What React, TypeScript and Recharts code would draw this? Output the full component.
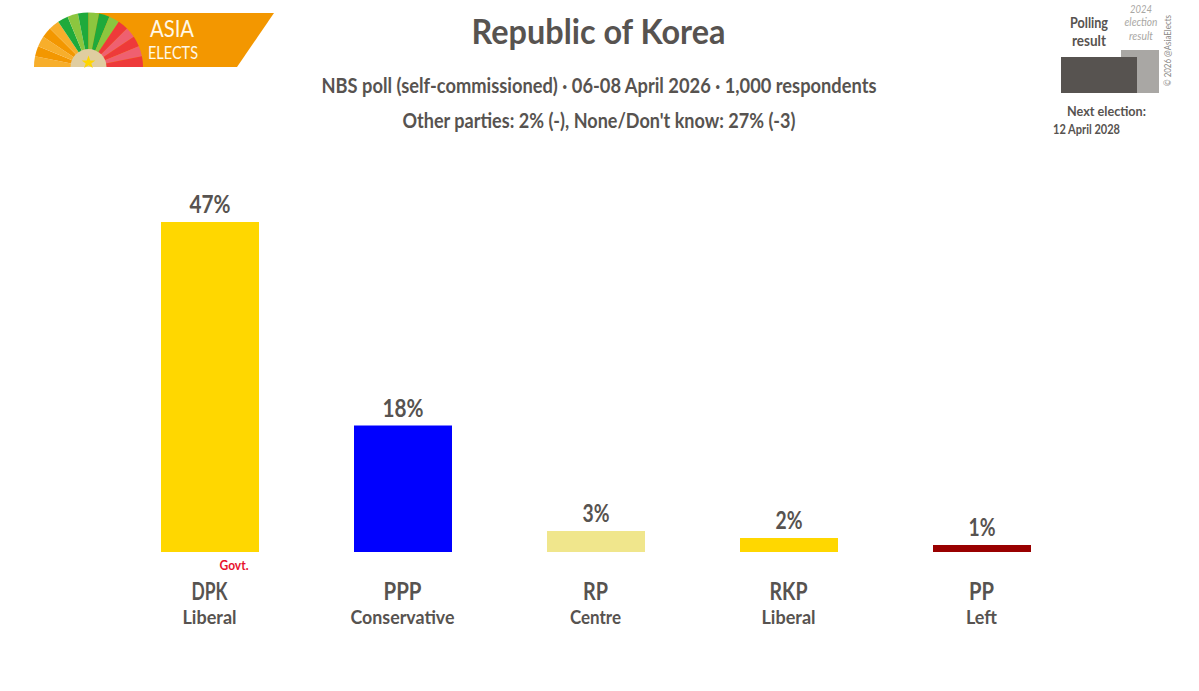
import { Bar, BarChart, Cell, LabelList, XAxis, YAxis } from 'recharts'

const parties = ['DPK', 'PPP', 'RP', 'RKP', 'PP']
const ideologies = ['Liberal', 'Conservative', 'Centre', 'Liberal', 'Left']
const results = [47, 18, 3, 2, 1]
const partyColors = ['#FFD700', '#0000FF', '#F0E68C', '#FFD700', '#990000']

const partyWidths = [36, 38, 25, 38, 25]
const ideologyWidths = [54, 104, 51, 54, 31]

const fanColors = [
  '#F7AE2B', '#F39700', '#F7AE2B', '#F39700', '#F7AE2B',
  '#1FAA3B', '#8CC63F', '#1FAA3B', '#8CC63F', '#1FAA3B', '#8CC63F',
  '#EE3A3A', '#EF6070', '#EE3A3A', '#EF6070', '#EE3A3A',
]

const data = parties.map((name, i) => ({ name, value: results[i] }))

const INK = '#575350'
const FONT = 'Lato, sans-serif'

function T({ x, y, w, size, children, weight = 700, fill = INK, anchor = 'middle', italic = false }: any) {
  return (
    <text
      x={x}
      y={y}
      textAnchor={anchor}
      fontFamily={FONT}
      fontSize={size}
      fontWeight={weight}
      fontStyle={italic ? 'italic' : 'normal'}
      fill={fill}
      textLength={w}
      lengthAdjust='spacingAndGlyphs'
    >
      {children}
    </text>
  )
}

function PartyTick({ x, y, payload, index }: any) {
  return (
    <g>
      <T x={x} y={y + 40} w={partyWidths[index]} size={24}>{payload.value}</T>
      <T x={x} y={y + 64} w={ideologyWidths[index]} size={19}>{ideologies[index]}</T>
    </g>
  )
}

function ValueLabel({ x, y, width, value }: any) {
  return (
    <T x={x + width / 2} y={y - 9} w={String(value).length === 1 ? 27 : 41} size={24}>
      {`${value}%`}
    </T>
  )
}

function wedge(i: number) {
  const cx = 88.5
  const cy = 67
  const r = 54.5
  const step = Math.PI / fanColors.length
  const a = Math.PI - i * step
  const b = a - step
  return `M${cx} ${cy}L${cx + r * Math.cos(a)} ${cy - r * Math.sin(a)}A${r} ${r} 0 0 1 ${cx + r * Math.cos(b)} ${cy - r * Math.sin(b)}Z`
}

function Logo() {
  return (
    <g>
      <path d='M88 13H274L237 67H88Z' fill='#F39700' />
      {fanColors.map((c, i) => <path key={i} d={wedge(i)} fill={c} />)}
      <path d='M70.5 67A18 18 0 0 1 106.5 67Z' fill='#E0CDA0' />
      <path d='M88.5 55.5l1.8 5h5l-4 3 1.6 4.5-4.4-2.8-4.4 2.8 1.6-4.5-4-3h5z' fill='#FFD500' />
      <T x={172} y={37} w={44} size={24} weight={400} fill='#FFF8E8'>ASIA</T>
      <T x={173} y={59} w={50} size={18} weight={400} fill='#FFF8E8'>ELECTS</T>
    </g>
  )
}

function Header() {
  return (
    <g>
      <T x={598.5} y={44} w={254} size={35}>Republic of Korea</T>
      <T x={599} y={93} w={555} size={20}>NBS poll (self-commissioned) · 06-08 April 2026 · 1,000 respondents</T>
      <T x={599} y={128} w={393} size={20}>Other parties: 2% (-), None/Don't know: 27% (-3)</T>
    </g>
  )
}

function Inset() {
  return (
    <g>
      <rect x={1121} y={50} width={38} height={43} fill='#A9A7A4' />
      <rect x={1061} y={57} width={76} height={36} fill='#575350' />
      <T x={1089} y={28} w={38} size={15}>Polling</T>
      <T x={1089} y={46} w={34} size={15}>result</T>
      <T x={1141} y={13} w={22} size={12} weight={400} fill='#A9A7A4' italic>2024</T>
      <T x={1141} y={26} w={33} size={11} weight={400} fill='#A9A7A4' italic>election</T>
      <T x={1141} y={40} w={24} size={11} weight={400} fill='#A9A7A4' italic>result</T>
      <T x={1106.5} y={116} w={79} size={14}>Next election:</T>
      <T x={1086.5} y={134} w={67} size={13}>12 April 2028</T>
      <g transform='translate(1171 86) rotate(-90)'>
        <T x={0} y={0} w={71} size={9} weight={400} fill='#8A8885' anchor='start'>© 2026 @AsiaElects</T>
      </g>
    </g>
  )
}

export default function App() {
  return (
    <div style={{ position: 'absolute', left: 0, top: 0, width: 1199, height: 691, background: '#fff' }}>
      <BarChart
        width={1199}
        height={691}
        data={data}
        margin={{ top: 222, right: 121, bottom: 0, left: 113 }}
        barSize={98}
      >
        <XAxis dataKey='name' axisLine={false} tickLine={false} interval={0} height={139} tick={<PartyTick />} />
        <YAxis hide domain={[0, 47]} />
        <Bar dataKey='value' isAnimationActive={false}>
          {data.map((d, i) => <Cell key={d.name} fill={partyColors[i]} />)}
          <LabelList dataKey='value' content={<ValueLabel />} />
        </Bar>
        <Logo />
        <Header />
        <Inset />
        <T x={234} y={570} w={29} size={14} fill='#E8112D'>Govt.</T>
      </BarChart>
    </div>
  )
}
